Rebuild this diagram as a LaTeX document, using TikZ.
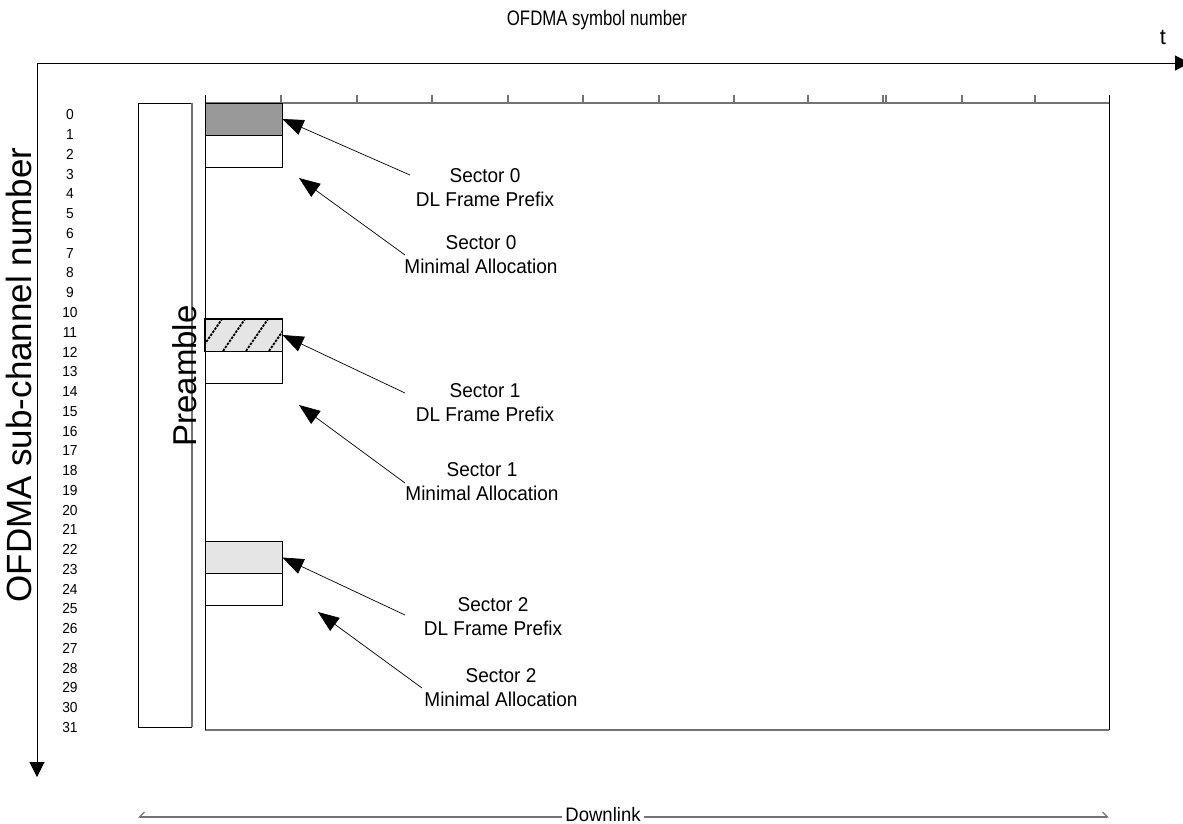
\documentclass[tikz,border=0pt]{standalone}
\usepackage{fontspec}
\setmainfont{Liberation Sans}
\newfontfamily\narrowfont[FakeStretch=0.8]{Liberation Sans}
\newfontfamily\labelfont[FakeStretch=0.95]{Liberation Sans}
\usetikzlibrary{arrows.meta, positioning}

\begin{document}
\begin{tikzpicture}[
    x=1pt, y=-1pt,
    axis/.style={-{Triangle[length=15pt, width=15pt]}, line width=1pt},
    edge/.style={line width=0.9pt},
    grayedge/.style={draw=black!55, line width=1.6pt},
    slot/.style={rectangle, draw, line width=0.9pt, minimum width=77pt, minimum height=32pt, inner sep=0pt},
    hatch/.style={line width=1.8pt, dash pattern=on 2.5pt off 1.2pt},
    arrow/.style={-{Triangle[length=21pt, width=16pt]}, line width=0.7pt},
    sector/.style={align=center, font=\labelfont\fontsize{20}{24}\selectfont},
    chan/.style={font=\labelfont\fontsize{14.5}{14.5}\selectfont},
    bigtext/.style={font=\fontsize{33}{33}\selectfont}
]
\useasboundingbox (0,0) rectangle (1183,823);

% Axes
\coordinate (origin) at (37,63);
\coordinate (tend) at (1190,63);
\coordinate (chend) at (37,777);
\draw[axis] (origin) -- (tend);
\draw[axis] (origin) -- (chend);

\node[font=\narrowfont\fontsize{21}{21}\selectfont] (symtitle) at (597,20) {OFDMA symbol number};
\node[font=\fontsize{22}{22}\selectfont] (tlabel) at (1163,37) {t};
\node[font=\fontsize{35}{35}\selectfont, rotate=90] (chtitle) at (19,375) {OFDMA sub-channel number};

% Sub-channel numbers
\foreach \i in {0,...,31}
    \node[chan] (ch\i) at (70,{115+19.75*\i}) {\i};

% Preamble column
\draw[edge] (192,103) -- (138,103) -- (138,727) -- (192,727);
\draw[grayedge] (192,103) -- (192,727);
\node[bigtext, rotate=90] (preamble) at (185,376) {Preamble};

% Frame with symbol ticks
\draw[grayedge, line width=1.2pt] (205,103) -- (1109,103);
\draw[grayedge] (205,730) -- (1109,730);
\foreach \x in {281,357,432,508,583,659,734,808,883,886,962,1035}
    \draw[grayedge, line width=1.2pt] (\x,95) -- (\x,103);
\draw[edge] (205,95) -- (205,730);
\draw[edge] (1109,95) -- (1109,730);

% Sector 0
\node[slot, fill=black!40] (fp0) at (243.5,119) {};
\node[slot] (ma0) at (243.5,151) {};

% Sector 1
\node[slot, fill=black!10] (fp1) at (243.5,335) {};
\begin{scope}
    \clip (fp1.south west) rectangle (fp1.north east);
    \foreach \x in {177,200,...,290}
        \draw[hatch] (\x,351) -- ++(22,-32);
\end{scope}
\draw[edge] (fp1.south west) rectangle (fp1.north east);
\node[slot] (ma1) at (243.5,367) {};

% Sector 2
\node[slot, fill=black!10] (fp2) at (243.5,557.5) {};
\node[slot] (ma2) at (243.5,589.5) {};

% Labels
\node[sector] (lblfp0) at (485,188) {Sector 0\\DL Frame Prefix};
\node[sector] (lblma0) at (481,255) {Sector 0\\Minimal Allocation};
\node[sector] (lblfp1) at (485,403) {Sector 1\\DL Frame Prefix};
\node[sector] (lblma1) at (482,482) {Sector 1\\Minimal Allocation};
\node[sector] (lblfp2) at (493,617) {Sector 2\\DL Frame Prefix};
\node[sector] (lblma2) at (501,688) {Sector 2\\Minimal Allocation};

% Arrow ends
\coordinate (fp0tail) at (410,175);
\coordinate (ma0tail) at (405,255);
\coordinate (ma0tip) at (299,178);
\coordinate (fp1tail) at (405,393);
\coordinate (ma1tail) at (405,483);
\coordinate (ma1tip) at (299,405);
\coordinate (fp2tail) at (405,615);
\coordinate (ma2tail) at (422,688);
\coordinate (ma2tip) at (318,612);

\draw[arrow] (fp0tail) -- (fp0.east);
\draw[arrow] (ma0tail) -- (ma0tip);
\draw[arrow] (fp1tail) -- (fp1.east);
\draw[arrow] (ma1tail) -- (ma1tip);
\draw[arrow] (fp2tail) -- (fp2.east);
\draw[arrow] (ma2tail) -- (ma2tip);

% Downlink span
\coordinate (dlstart) at (138,817);
\coordinate (dlend) at (1109,817);
\draw[draw=black!55, line width=1.2pt, {Straight Barb[harpoon, swap, length=5pt, width=10pt]}-{Straight Barb[harpoon, length=5pt, width=10pt]}] (dlstart) -- (dlend);
\node[fill=white, inner sep=3pt, anchor=base, font=\labelfont\fontsize{19.5}{19.5}\selectfont] (downlink) at (603,821) {Downlink};

\end{tikzpicture}
\end{document}
